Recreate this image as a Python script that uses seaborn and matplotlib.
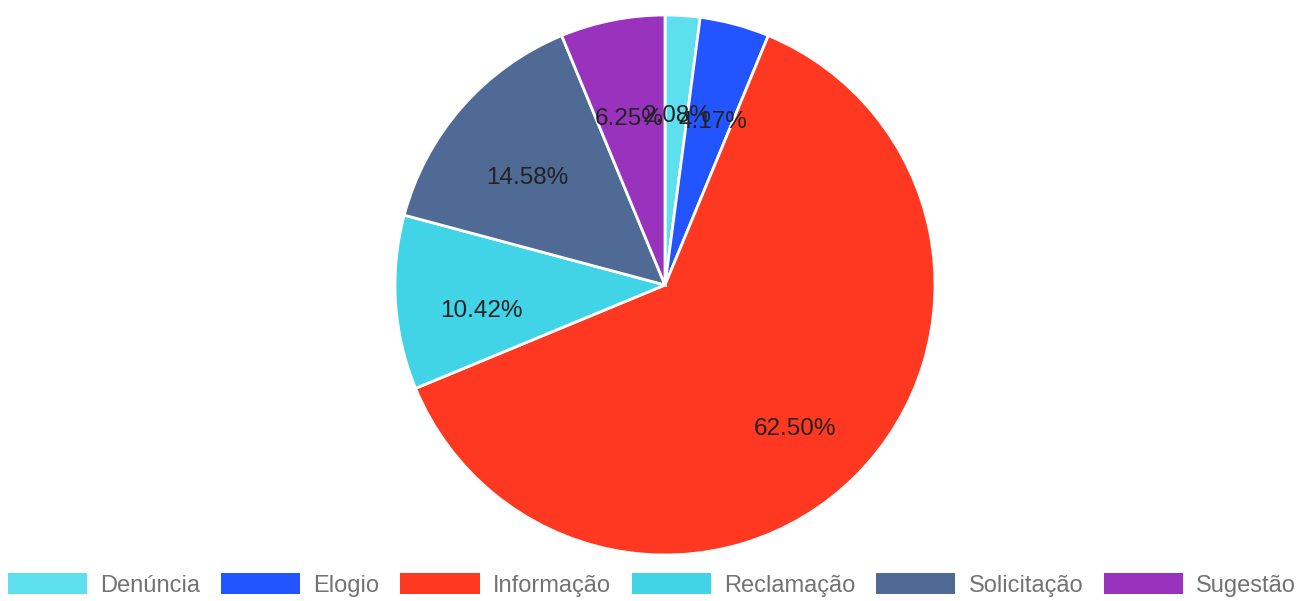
import numpy as np
import matplotlib
matplotlib.use("Agg")
import matplotlib.pyplot as plt
import matplotlib.transforms as mtransforms
import seaborn as sns

# Data (counts out of 48)
categories = ["Denúncia", "Elogio", "Informação", "Reclamação", "Solicitação", "Sugestão"]
counts = [1, 2, 30, 5, 7, 3]
colors = ["#5EDFEE", "#2255FF", "#FF3822", "#40D4E6", "#506A96", "#9933BE"]

sns.set_theme(style="white")
plt.rcParams["font.family"] = ["Liberation Sans", "DejaVu Sans"]

fig = plt.figure(figsize=(13.04, 6.01), dpi=100)
ax = fig.add_axes([395 / 1304, 46 / 601, 540 / 1304, 540 / 601])

wedges, texts, autotexts = ax.pie(
    counts,
    colors=colors,
    startangle=90,
    counterclock=False,
    autopct="%.2f%%",
    pctdistance=0.68,
    wedgeprops=dict(edgecolor="white", linewidth=2),
    textprops=dict(color="#222222", fontsize=17.5),
)
# labels sit a bit lower in the original
for t in autotexts:
    t.set_transform(mtransforms.offset_copy(t.get_transform(), fig=fig, x=0, y=-14, units="dots"))

ax.set_xlim(-1, 1)
ax.set_ylim(-1, 1)
ax.set_aspect("equal")
ax.axis("off")

leg = fig.legend(
    wedges, categories,
    loc="lower center", bbox_to_anchor=(0.5, -0.028), ncol=6,
    frameon=False, fontsize=17,
    handlelength=3.35, handleheight=1.0, handletextpad=0.55, columnspacing=0.9,
)
for t in leg.get_texts():
    t.set_color("#737373")
for h in leg.legend_handles:
    h.set_edgecolor("none")

fig.savefig("out.png", dpi=100)
